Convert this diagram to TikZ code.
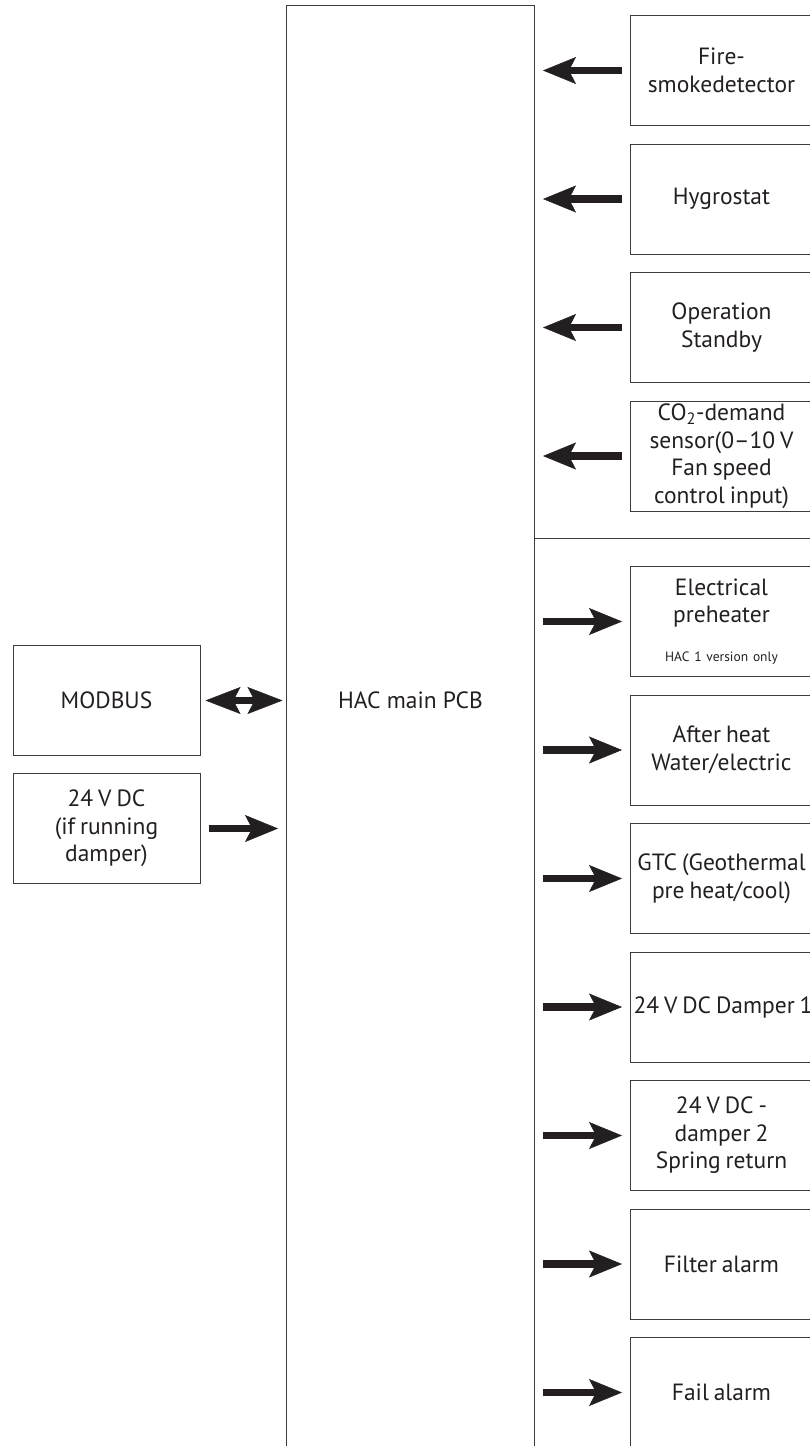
\documentclass[tikz,border=0pt]{standalone}
\usepackage{fontspec}
\setmainfont{PT Sans}
\usepackage{tikz}
\usetikzlibrary{arrows.meta, positioning, calc}
\definecolor{linegray}{RGB}{60,60,60}
\definecolor{inkblack}{RGB}{35,31,32}
\newcommand{\boxfont}{\fontsize{23.5}{27.5}\selectfont}
\newcommand{\notefont}{\fontsize{13.5}{15}\selectfont\spaceskip=0pt}

\begin{document}
\begin{tikzpicture}[
  x=1pt, y=1pt,
  node distance=17.5pt,
  rbox/.style={draw=linegray, line width=1pt, minimum height=110pt,
               text width=176pt, inner xsep=3pt, inner ysep=0pt,
               align=center, font=\boxfont, text=inkblack,
               execute at begin node={\spaceskip=0.21em\xspaceskip=0pt}},
  lbox/.style={rbox, text width=181pt},
  arr/.style={-{Stealth[length=33pt, width=27pt, inset=7pt, line width=0.5pt]},
              line width=7.5pt, inkblack, shorten >=8pt, shorten <=8pt},
  dblarr/.style={{Stealth[length=35pt, width=27pt, inset=7pt, line width=0.5pt]}-{Stealth[length=35pt, width=27pt, inset=7pt, line width=0.5pt]},
                 line width=7.5pt, inkblack, shorten >=3.5pt, shorten <=5pt},
]
\useasboundingbox (0,0) rectangle (809,-1446);

% main board, open at the bottom
\node[draw=linegray, line width=1pt, minimum width=248pt, minimum height=1500pt,
      anchor=north] (pcb) at (410.5,-4.5) {};

% left side
\node[lbox] (modbus) at (106.5,-700.5) {MODBUS};
\node[lbox, below=17pt of modbus] (dc24) {24 V DC\\(if running\\damper)};
\node[font=\boxfont, text=inkblack] (pcbtext) at (pcb.center |- modbus) {HAC main PCB};

% inputs
\node[rbox, anchor=north west] (fire) at (630,-15) {Fire-\\smokedetector};
\node[rbox, below=of fire] (hygro) {Hygrostat};
\node[rbox, below=of hygro] (oper) {Operation\\Standby};
\node[rbox, below=of oper] (co2) {CO\textsubscript{2}-demand\\sensor(0--10 V\\Fan speed\\control input)};

% outputs
\node[rbox, below=54.5pt of co2] (elec) {Electrical\\preheater\\[11pt]{\notefont HAC 1 version only}};
\node[rbox, below=of elec] (after) {After heat\\Water/electric};
\node[rbox, below=of after] (gtc) {GTC (Geothermal\\pre heat/cool)};
\node[rbox, below=of gtc] (dampA) {\mbox{24 V DC Damper 1}};
\node[rbox, below=of dampA] (dampB) {24 V DC -\\damper 2\\Spring return};
\node[rbox, below=of dampB] (filter) {Filter alarm};
\node[rbox, below=of filter] (fail) {Fail alarm};

% divider between inputs and outputs
\coordinate (sep) at ($(co2.south)!0.5!(elec.north)$);
\draw[draw=linegray, line width=1pt] (sep -| pcb.east) -- (sep -| fire.east);

\draw[dblarr] (modbus.east) -- (modbus.east -| pcb.west);
\draw[arr] (dc24.east) -- (dc24.east -| pcb.west);

\draw[arr] (fire.west) -- (fire.west -| pcb.east);
\draw[arr] (hygro.west) -- (hygro.west -| pcb.east);
\draw[arr] (oper.west) -- (oper.west -| pcb.east);
\draw[arr] (co2.west) -- (co2.west -| pcb.east);

\draw[arr] (elec.west -| pcb.east) -- (elec.west);
\draw[arr] (after.west -| pcb.east) -- (after.west);
\draw[arr] (gtc.west -| pcb.east) -- (gtc.west);
\draw[arr] (dampA.west -| pcb.east) -- (dampA.west);
\draw[arr] (dampB.west -| pcb.east) -- (dampB.west);
\draw[arr] (filter.west -| pcb.east) -- (filter.west);
\draw[arr] (fail.west -| pcb.east) -- (fail.west);

\end{tikzpicture}
\end{document}
